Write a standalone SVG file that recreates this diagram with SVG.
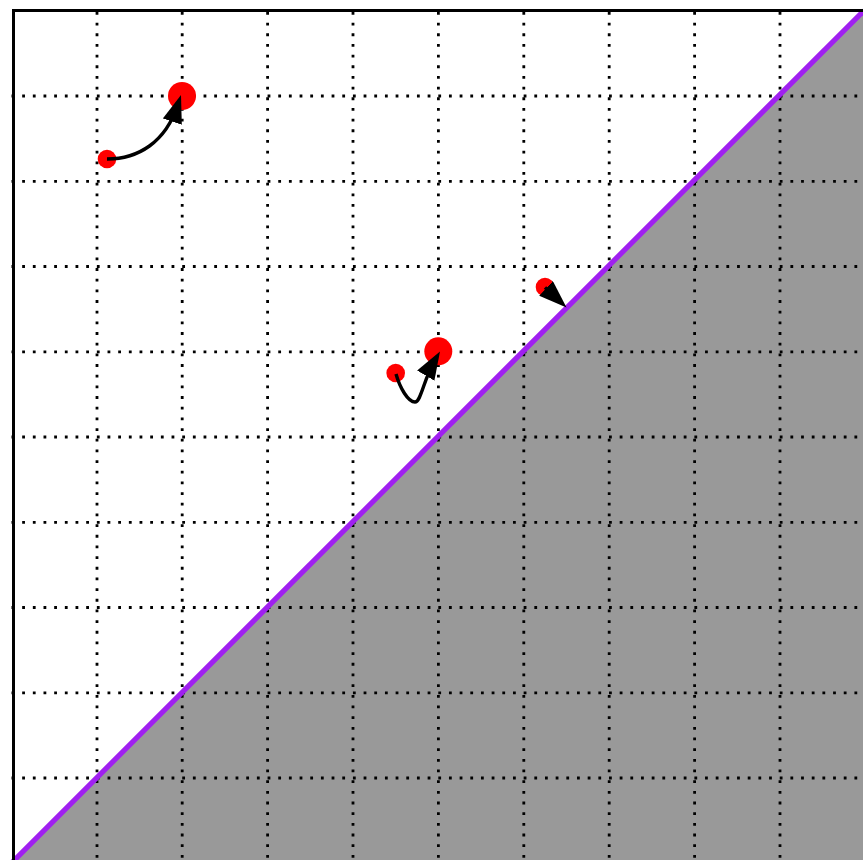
<svg xmlns="http://www.w3.org/2000/svg" width="863" height="860" viewBox="0 0 863 860">
<style>
.grid{stroke:#000;stroke-width:2.8;stroke-dasharray:2.8 7.87;fill:none}
.frame{stroke:#000;stroke-width:3;fill:none}
.diag{stroke:#A020F0;stroke-width:5.2;fill:none}
.pt{fill:#FF0000}
.conn{stroke:#000;stroke-width:3.4;fill:none;marker-end:url(#ah)}
</style>
<defs>
<marker id="ah" markerUnits="userSpaceOnUse" markerWidth="29" markerHeight="21" refX="18" refY="10" orient="auto" viewBox="0 0 29 21">
<path d="M0,0 L28,10 L0,20 z" fill="#000"/>
</marker>
</defs>
<rect x="0" y="0" width="863" height="860" fill="#fff"/>
<polygon points="13,862 864,11 864,862" fill="#999999"/>
<g id="grid">
<line class="grid" x1="97" y1="12" x2="97" y2="862"/>
<line class="grid" x1="182.2" y1="12" x2="182.2" y2="862"/>
<line class="grid" x1="267.6" y1="12" x2="267.6" y2="862"/>
<line class="grid" x1="353" y1="12" x2="353" y2="862"/>
<line class="grid" x1="438.4" y1="12" x2="438.4" y2="862"/>
<line class="grid" x1="523.8" y1="12" x2="523.8" y2="862"/>
<line class="grid" x1="609.2" y1="12" x2="609.2" y2="862"/>
<line class="grid" x1="694.6" y1="12" x2="694.6" y2="862"/>
<line class="grid" x1="780" y1="12" x2="780" y2="862"/>
<line class="grid" x1="11.5" y1="96" x2="864" y2="96"/>
<line class="grid" x1="11.5" y1="181.3" x2="864" y2="181.3"/>
<line class="grid" x1="11.5" y1="266.5" x2="864" y2="266.5"/>
<line class="grid" x1="11.5" y1="351.8" x2="864" y2="351.8"/>
<line class="grid" x1="11.5" y1="437" x2="864" y2="437"/>
<line class="grid" x1="11.5" y1="522.3" x2="864" y2="522.3"/>
<line class="grid" x1="11.5" y1="607.5" x2="864" y2="607.5"/>
<line class="grid" x1="11.5" y1="692.8" x2="864" y2="692.8"/>
<line class="grid" x1="11.5" y1="778" x2="864" y2="778"/>
</g>
<line class="diag" x1="12.5" y1="862" x2="864" y2="10.5"/>
<rect class="frame" x="13.5" y="10.5" width="852" height="852"/>
<g id="p1"><circle class="pt" cx="107" cy="159" r="9.3"/></g>
<g id="p2"><circle class="pt" cx="182" cy="96" r="14"/></g>
<g id="p3"><circle class="pt" cx="395.7" cy="373" r="9.3"/></g>
<g id="p4"><circle class="pt" cx="438.3" cy="351.3" r="14"/></g>
<g id="p5"><circle class="pt" cx="545" cy="287" r="9.3"/></g>
<g id="connectors">
<path class="conn" d="M107,159 C138,159 165.5,142.5 177.9,104.5"/>
<path class="conn" d="M396,374 C400,388 408,402 415,402 C421,402 423.7,379.1 434.9,360.1"/>
<path class="conn" d="M545,287.5 L559.2,300.7"/>
</g>
</svg>
